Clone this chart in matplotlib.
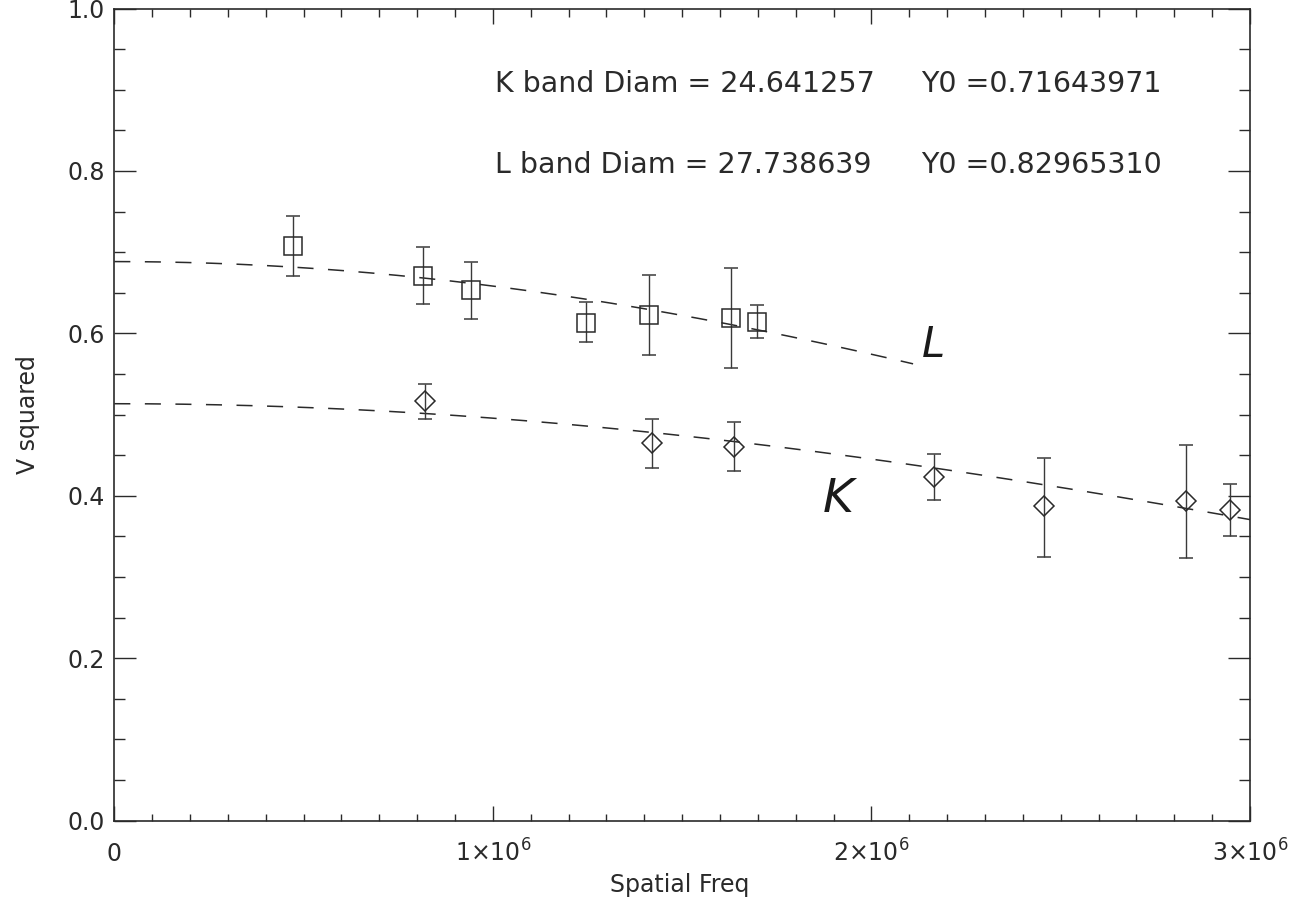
import numpy as np
import matplotlib
matplotlib.use("Agg")
import matplotlib.pyplot as plt
from math import factorial

# ---------------- data ----------------
L_freq = [0.472e6, 0.815e6, 0.941e6, 1.246e6, 1.412e6, 1.629e6, 1.697e6]
L_v2 = [0.707, 0.671, 0.653, 0.613, 0.623, 0.619, 0.614]
L_lo = [0.671, 0.636, 0.618, 0.589, 0.573, 0.557, 0.594]
L_hi = [0.744, 0.706, 0.688, 0.638, 0.672, 0.680, 0.635]

K_freq = [0.822e6, 1.420e6, 1.638e6, 2.165e6, 2.456e6, 2.831e6, 2.948e6]
K_v2 = [0.517, 0.465, 0.460, 0.423, 0.387, 0.393, 0.382]
K_lo = [0.495, 0.434, 0.430, 0.395, 0.325, 0.323, 0.350]
K_hi = [0.537, 0.495, 0.491, 0.451, 0.447, 0.462, 0.414]

K_diam = 24.641257   # mas
K_y0 = 0.71643971
L_diam = 27.738639   # mas
L_y0 = 0.82965310
L_fit_max = 2.11e6
K_fit_max = 3.0e6

x_ticks = [0, 1e6, 2e6, 3e6]
x_ticklabels = ["0", r"1$\times$10$^6$", r"2$\times$10$^6$", r"3$\times$10$^6$"]
y_ticks = [0.0, 0.2, 0.4, 0.6, 0.8, 1.0]
y_ticklabels = ["0.0", "0.2", "0.4", "0.6", "0.8", "1.0"]


def j1(z):
    s = np.zeros_like(z)
    for k in range(20):
        s += (-1) ** k * (z / 2) ** (2 * k + 1) / (factorial(k) * factorial(k + 1))
    return s


def ud_v2(freq, diam_mas, y0):
    theta = diam_mas * 1e-3 / 206264.806
    z = np.pi * theta * freq
    z = np.where(z == 0, 1e-12, z)
    return (y0 * 2 * j1(z) / z) ** 2


# ---------------- figure ----------------
plt.rcParams['font.family'] = ['DejaVu Sans']
plt.rcParams['mathtext.fontset'] = 'dejavusans'
ink = '#2a2a2a'

fig = plt.figure(figsize=(13.13, 9.06), dpi=100)
ax = fig.add_axes([114.3 / 1313, 1 - 820.5 / 906, (1250 - 114.3) / 1313, (820.5 - 8.5) / 906])

# fitted curves
xl = np.linspace(0, L_fit_max, 300)
xk = np.linspace(0, K_fit_max, 400)
ax.plot(xl, ud_v2(xl, L_diam, L_y0), color=ink, lw=1.1, dashes=(10.5, 9.5))
ax.plot(xk, ud_v2(xk, K_diam, K_y0), color=ink, lw=1.1, dashes=(10.5, 9.5))

# data with error bars
L_err = [np.array(L_v2) - np.array(L_lo), np.array(L_hi) - np.array(L_v2)]
K_err = [np.array(K_v2) - np.array(K_lo), np.array(K_hi) - np.array(K_v2)]
ax.errorbar(L_freq, L_v2, yerr=L_err, fmt='s', ms=12.5, mfc='none', mec=ink, mew=1.1,
            ecolor='#3a3a3a', elinewidth=1.0, capsize=5, capthick=1.0)
ax.errorbar(K_freq, K_v2, yerr=K_err, fmt='D', ms=10.5, mfc='none', mec=ink, mew=1.1,
            ecolor='#3a3a3a', elinewidth=1.0, capsize=5, capthick=1.0)

ax.set_xlim(0, 3e6)
ax.set_ylim(0, 1.0)

ax.set_xticks(x_ticks)
ax.set_xticklabels(x_ticklabels, va='baseline')
ax.set_xticks(np.arange(0, 3e6 + 1, 1e5), minor=True)
ax.set_yticks(y_ticks)
ax.set_yticklabels(y_ticklabels)
ax.set_yticks(np.arange(0, 1.0001, 0.05), minor=True)

ax.tick_params(axis='x', which='major', direction='in', length=10.8, width=1.0,
               top=True, bottom=True, labelsize=17, pad=29.5, colors=ink)
ax.tick_params(axis='x', which='minor', direction='in', length=5.4, width=1.0,
               top=True, bottom=True, colors=ink)
ax.tick_params(axis='y', which='major', direction='in', length=15.6, width=1.0,
               left=True, right=True, labelsize=17, pad=7, colors=ink)
ax.tick_params(axis='y', which='minor', direction='in', length=7.8, width=1.0,
               left=True, right=True, colors=ink)
for s in ax.spines.values():
    s.set_color(ink)
    s.set_linewidth(1.2)

# annotations
ax.text(1.0045e6, 0.907, "K band Diam = %.6f" % K_diam, fontsize=20.5, color=ink, va='center', ha='left')
ax.text(2.131e6, 0.907, "Y0 =%.8f" % K_y0, fontsize=20.5, color=ink, va='center', ha='left')
ax.text(1.0045e6, 0.807, "L band Diam = %.6f" % L_diam, fontsize=20.5, color=ink, va='center', ha='left')
ax.text(2.131e6, 0.807, "Y0 =%.8f" % L_y0, fontsize=20.5, color=ink, va='center', ha='left')

# hand-written labels
ax.text(2.165e6, 0.586, "L", fontsize=30, style='italic', color='#1a1a1a', ha='center', va='center')
ax.text(1.912e6, 0.395, "K", fontsize=34, style='italic', color='#1a1a1a', ha='center', va='center')

fig.text(28 / 1313, 1 - 415 / 906, "V squared", rotation=90, fontsize=17, color=ink,
         ha='center', va='center')
fig.text(680 / 1313, 1 - 885 / 906, "Spatial Freq", fontsize=17, color=ink,
         ha='center', va='center')

fig.savefig("out.png", dpi=100, facecolor='white')
